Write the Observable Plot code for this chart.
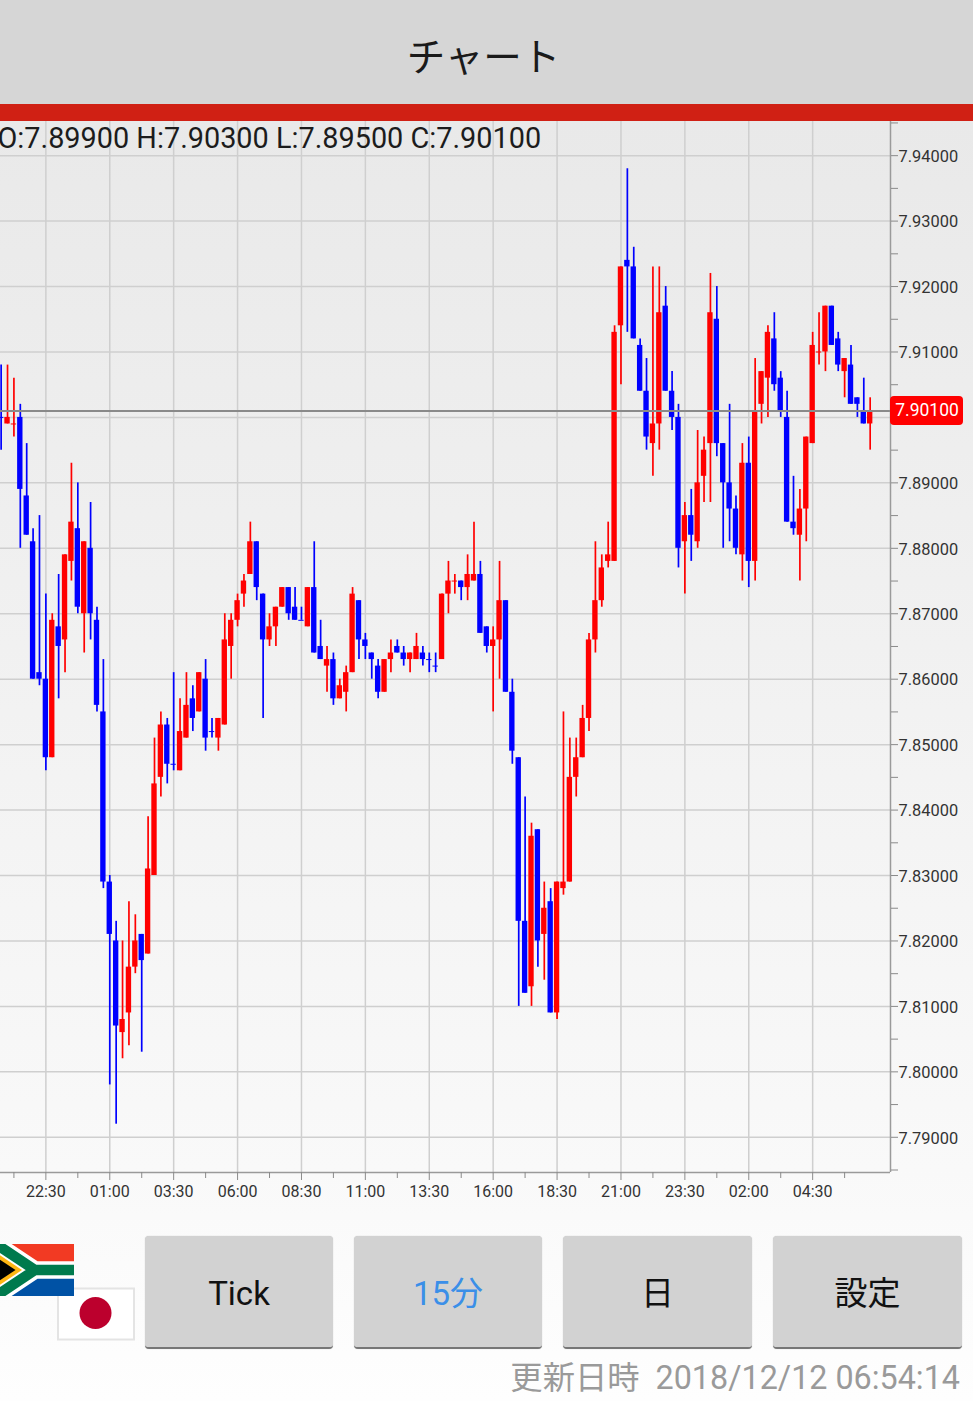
<!DOCTYPE html>
<html lang="ja">
<head>
<meta charset="utf-8">
<script src="https://cdn.jsdelivr.net/npm/d3@7"></script>
<script src="https://cdn.jsdelivr.net/npm/@observablehq/plot@0.6"></script>
<style>
html,body{margin:0;padding:0;width:973px;height:1401px;overflow:hidden;background:#fff;font-family:Roboto,"Noto Sans CJK JP",sans-serif;}
#bg{position:absolute;left:0;top:121px;width:973px;height:1280px;background:linear-gradient(#e9e9e9,#f9f9f9 82%,#fefefe);}
#hdr{position:absolute;left:0;top:0;width:973px;height:104px;background:#d6d6d6;}
#hdr div{position:absolute;left:-3px;width:973px;top:22px;text-align:center;font:400 38.5px/64px "Noto Sans CJK JP";color:#1a1a1a;}
#bar{position:absolute;left:0;top:104px;width:973px;height:17px;background:#d02014;}
#chart{position:absolute;left:0;top:121px;}
.btn{position:absolute;top:1236px;height:111px;background:#d2d2d2;border-radius:4px;border-bottom:2px solid #777;box-shadow:0 0 1px #bbb;text-align:center;font:400 33px/116px Roboto,"Noto Sans CJK JP";color:#111;}
#stamp{position:absolute;right:13px;top:1355px;font:400 32.3px/46px Roboto,"Noto Sans CJK JP";color:#9a9a9a;white-space:pre;}
#flags{position:absolute;left:0;top:1240px;}
</style>
</head>
<body>
<div id="bg"></div>
<div id="hdr"><div>チャート</div></div>
<div id="bar"></div>
<div id="chart"></div>
<svg id="flags" width="140" height="105" viewBox="0 0 140 105">
  <rect x="58" y="48.5" width="76" height="51" fill="#fff" stroke="#e4e4e4" stroke-width="2"/>
  <circle cx="95.5" cy="73" r="16" fill="#bc002d"/>
  <svg x="-4" y="4" width="78" height="52" viewBox="0 0 900 600">
    <rect width="900" height="300" fill="#f23a23"/>
    <rect y="300" width="900" height="300" fill="#0052a5"/>
    <path d="M0,0L450,300H900M0,600L450,300" fill="none" stroke="#fff" stroke-width="200"/>
    <path d="M0,0L450,300H900M0,600L450,300" fill="none" stroke="#007a4d" stroke-width="120"/>
    <path d="M0,100L300,300L0,500Z" fill="#ffb612"/>
    <path d="M0,150L225,300L0,450Z" fill="#000"/>
  </svg>
</svg>
<div class="btn" style="left:145px;width:188px">Tick</div>
<div class="btn" style="left:354px;width:188px;color:#3b8fe8">15分</div>
<div class="btn" style="left:563px;width:189px">日</div>
<div class="btn" style="left:773px;width:189px">設定</div>
<div id="stamp">更新日時  2018/12/12 06:54:14</div>
<script>
const opens = [7.900,7.899,7.899,7.900,7.888,7.881,7.861,7.860,7.848,7.868,7.866,7.878,7.883,7.870,7.880,7.869,7.855,7.829,7.820,7.806,7.809,7.816,7.821,7.818,7.830,7.845,7.853,7.847,7.846,7.851,7.857,7.855,7.860,7.852,7.851,7.853,7.865,7.869,7.873,7.876,7.881,7.873,7.866,7.868,7.871,7.874,7.871,7.869,7.868,7.874,7.865,7.862,7.863,7.857,7.858,7.861,7.872,7.866,7.864,7.862,7.858,7.863,7.865,7.864,7.863,7.863,7.864,7.863,7.862,7.863,7.873,7.875,7.875,7.874,7.875,7.876,7.868,7.865,7.866,7.872,7.858,7.848,7.823,7.813,7.837,7.821,7.826,7.809,7.828,7.829,7.845,7.848,7.854,7.866,7.872,7.878,7.878,7.914,7.924,7.923,7.911,7.904,7.896,7.899,7.917,7.904,7.900,7.881,7.885,7.881,7.891,7.896,7.915,7.896,7.890,7.886,7.879,7.893,7.878,7.902,7.906,7.912,7.906,7.900,7.884,7.882,7.886,7.896,7.910,7.910,7.917,7.912,7.907,7.908,7.903,7.901,7.899];
const highs = [7.908,7.908,7.906,7.902,7.896,7.883,7.885,7.873,7.870,7.876,7.879,7.893,7.890,7.881,7.887,7.871,7.863,7.830,7.823,7.820,7.826,7.824,7.821,7.839,7.851,7.855,7.854,7.861,7.857,7.861,7.859,7.861,7.863,7.854,7.854,7.870,7.870,7.873,7.876,7.884,7.881,7.873,7.870,7.871,7.874,7.874,7.874,7.871,7.874,7.881,7.869,7.865,7.864,7.860,7.862,7.874,7.872,7.867,7.864,7.863,7.863,7.866,7.866,7.865,7.864,7.867,7.865,7.864,7.864,7.873,7.878,7.876,7.875,7.879,7.884,7.878,7.868,7.868,7.878,7.872,7.860,7.848,7.842,7.838,7.837,7.829,7.828,7.829,7.855,7.851,7.851,7.856,7.867,7.881,7.879,7.884,7.914,7.923,7.938,7.926,7.912,7.909,7.923,7.923,7.920,7.907,7.902,7.887,7.889,7.898,7.897,7.922,7.920,7.896,7.902,7.888,7.896,7.897,7.909,7.907,7.914,7.916,7.907,7.904,7.891,7.889,7.897,7.913,7.916,7.917,7.917,7.913,7.909,7.911,7.903,7.906,7.903];
const lows = [7.895,7.899,7.897,7.880,7.882,7.860,7.859,7.846,7.848,7.857,7.861,7.875,7.870,7.864,7.866,7.855,7.828,7.798,7.792,7.802,7.804,7.815,7.803,7.818,7.830,7.842,7.844,7.846,7.846,7.851,7.852,7.855,7.849,7.851,7.849,7.853,7.860,7.868,7.871,7.876,7.872,7.854,7.865,7.865,7.871,7.869,7.869,7.869,7.868,7.864,7.863,7.858,7.856,7.857,7.855,7.861,7.863,7.863,7.860,7.857,7.858,7.861,7.864,7.862,7.861,7.863,7.862,7.861,7.861,7.863,7.870,7.873,7.872,7.872,7.875,7.867,7.864,7.855,7.860,7.858,7.847,7.810,7.812,7.810,7.816,7.814,7.809,7.808,7.827,7.829,7.842,7.848,7.852,7.864,7.871,7.877,7.878,7.905,7.913,7.912,7.904,7.895,7.891,7.895,7.904,7.898,7.877,7.873,7.878,7.880,7.887,7.887,7.894,7.880,7.881,7.879,7.875,7.874,7.875,7.899,7.900,7.904,7.900,7.884,7.882,7.875,7.881,7.896,7.908,7.907,7.911,7.907,7.903,7.902,7.900,7.899,7.895];
const closes = [7.900,7.900,7.899,7.889,7.882,7.860,7.860,7.848,7.869,7.865,7.879,7.884,7.871,7.881,7.870,7.856,7.829,7.821,7.807,7.808,7.816,7.820,7.817,7.831,7.844,7.853,7.847,7.847,7.852,7.856,7.854,7.861,7.851,7.852,7.854,7.866,7.869,7.872,7.875,7.881,7.874,7.866,7.868,7.871,7.874,7.870,7.869,7.869,7.874,7.864,7.863,7.863,7.857,7.859,7.861,7.873,7.866,7.865,7.863,7.858,7.863,7.864,7.864,7.863,7.864,7.865,7.863,7.863,7.862,7.873,7.875,7.875,7.874,7.876,7.876,7.867,7.865,7.866,7.872,7.858,7.849,7.823,7.812,7.836,7.820,7.825,7.809,7.829,7.829,7.845,7.848,7.854,7.866,7.872,7.877,7.879,7.913,7.923,7.923,7.912,7.904,7.897,7.899,7.916,7.904,7.900,7.880,7.885,7.882,7.890,7.895,7.916,7.896,7.890,7.886,7.880,7.893,7.878,7.901,7.907,7.913,7.905,7.901,7.884,7.883,7.886,7.897,7.911,7.910,7.917,7.911,7.908,7.909,7.902,7.902,7.899,7.901];
const flatUp = [2,71,128];           // candles with open == close drawn in the rising colour
const timeLabels = ["22:30","01:00","03:30","06:00","08:30","11:00","13:30","16:00","18:30","21:00","23:30","02:00","04:30"];
const priceTicks = [7.79,7.80,7.81,7.82,7.83,7.84,7.85,7.86,7.87,7.88,7.89,7.90,7.91,7.92,7.93,7.94];
const priceLabels = [7.79,7.80,7.81,7.82,7.83,7.84,7.85,7.86,7.87,7.88,7.89,7.91,7.92,7.93,7.94];
const priceMinor = [7.785,7.795,7.805,7.815,7.825,7.835,7.845,7.855,7.865,7.875,7.885,7.895,7.905,7.915,7.925,7.935,7.945];
const firstLabelled = 7, labelStep = 10;

const candles = opens.map((o,i)=>({i,o,h:highs[i],l:lows[i],c:closes[i],up:closes[i]>o||(closes[i]===o&&flatUp.includes(i))}));
const flat = candles.filter(d=>d.o===d.c);
const last = candles[candles.length-1];
const colorOf = d=>d.up?"#ff0000":"#0000ff";
const majorX = timeLabels.map((_,n)=>firstLabelled+n*labelStep);
const minorX = d3.range(14).map(n=>firstLabelled-labelStep/2+n*labelStep);
const xDomain = [-0.1,139.18], yDomain = [7.78462,7.94522];
const ohlc = `O:${last.o.toFixed(5)} H:${last.h.toFixed(5)} L:${last.l.toFixed(5)} C:${last.c.toFixed(5)}`;
const fmt = d=>d.toFixed(5);

const plot = Plot.plot({
  width:973, height:1089,
  marginTop:0, marginLeft:0, marginRight:83, marginBottom:38,
  style:{background:"transparent",fontFamily:"Roboto",overflow:"visible"},
  x:{domain:xDomain,axis:null},
  y:{domain:yDomain,axis:null},
  marks:[
    Plot.gridY(priceTicks,{stroke:"#cfcfcf",strokeOpacity:1,strokeWidth:1.5}),
    Plot.gridX(majorX,{stroke:"#cfcfcf",strokeOpacity:1,strokeWidth:1.5}),
    Plot.ruleX(candles,{x:"i",y1:"l",y2:"h",stroke:colorOf,strokeWidth:1.7}),
    Plot.rect(candles,{x1:d=>d.i-0.42,x2:d=>d.i+0.42,y1:"o",y2:"c",fill:colorOf}),
    Plot.ruleY(flat,{y:"c",x1:d=>d.i-0.42,x2:d=>d.i+0.42,stroke:colorOf,strokeWidth:1}),
    Plot.ruleY([last.c],{stroke:"#8a8a8a",strokeWidth:2}),
    Plot.ruleX([xDomain[1]],{stroke:"#9a9a9a",strokeWidth:1.5}),
    Plot.ruleY([yDomain[0]],{stroke:"#9a9a9a",strokeWidth:1.5}),
    Plot.axisY(priceTicks,{anchor:"right",tickSize:7,stroke:"#8a8a8a",fill:"none",label:null}),
    Plot.axisY(priceMinor,{anchor:"right",tickSize:7,stroke:"#8a8a8a",fill:"none",label:null}),
    Plot.axisY(priceLabels,{anchor:"right",tickSize:0,tickPadding:8,tickFormat:fmt,fill:"#333",fontSize:16.4,dy:1,label:null}),
    Plot.axisX(majorX,{anchor:"bottom",tickSize:8,stroke:"#8a8a8a",fill:"none",label:null}),
    Plot.axisX(minorX,{anchor:"bottom",tickSize:6,stroke:"#8a8a8a",fill:"none",label:null}),
    Plot.axisX(majorX,{anchor:"bottom",tickSize:0,tickPadding:13,tickFormat:k=>timeLabels[(k-firstLabelled)/labelStep],fill:"#333",fontSize:16,label:null}),
    Plot.rect([last],{x1:()=>xDomain[1],x2:()=>xDomain[1],y1:"c",y2:"c",insetRight:-73,insetTop:-14.5,insetBottom:-14.5,fill:"#ff0000",rx:4}),
    Plot.text([last],{x:()=>xDomain[1],y:"c",text:d=>fmt(d.c),dx:36.5,fill:"#fff",fontSize:17.5,textAnchor:"middle"}),
    Plot.text([ohlc],{frameAnchor:"top-left",dx:-3,dy:6,fill:"#1c1c1c",fontSize:28.85,textAnchor:"start",lineAnchor:"top"})
  ]
});
document.getElementById("chart").append(plot);
</script>
</body>
</html>
